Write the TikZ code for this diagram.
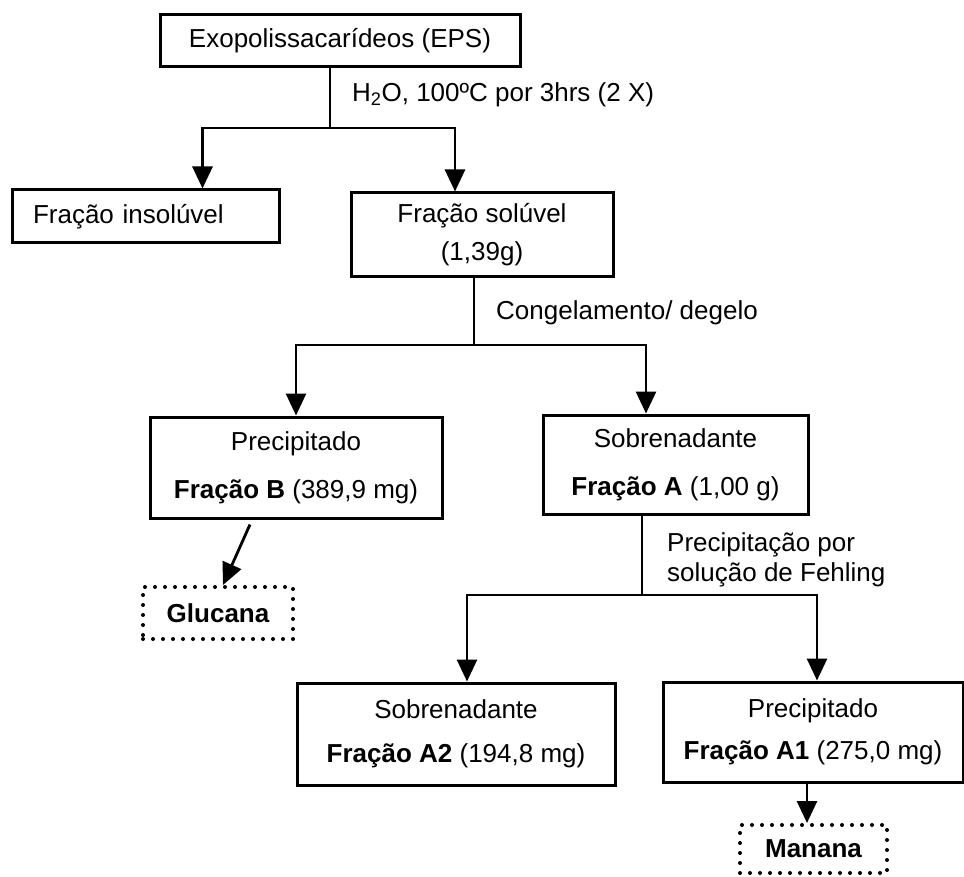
\documentclass[tikz,border=0pt]{standalone}
\usepackage{fontspec}
\setmainfont{Liberation Sans}
\usetikzlibrary{arrows.meta}
\begin{document}
\begin{tikzpicture}[x=1pt,y=-1pt,
  box/.style={draw, line width=3pt, inner sep=0pt, align=center, font=\fontsize{26}{38}\selectfont},
  dotbox/.style={draw, line width=4pt, dash pattern=on 0pt off 10pt, line cap=round, inner sep=0pt, font=\bfseries\fontsize{26}{30}\selectfont},
  conn/.style={line width=2.8pt},
  arr/.style={conn, -{Triangle[length=22pt,width=20pt]}},
  lbl/.style={anchor=west, inner sep=0pt, font=\fontsize{26}{30}\selectfont, align=left}]
\useasboundingbox (0,0) rectangle (964,877);

% boxes
\node[box, minimum width=360pt, minimum height=52pt] (eps) at (340,41) {Exopolissacarídeos (EPS)};
\node[box, minimum width=267pt, minimum height=53pt, text width=225pt, align=left] (ins) at (145.5,216.5) {Fração insolúvel};
\node[box, minimum width=262pt, minimum height=84pt] (sol) at (482,235) {Fração solúvel\\(1,39g)};
\node[box, minimum width=292pt, minimum height=101pt, font=\fontsize{26}{48}\selectfont] (pb) at (296,467.5) {Precipitado\\\textbf{Fração B} (389,9 mg)};
\node[box, minimum width=265pt, minimum height=99pt, font=\fontsize{26}{48}\selectfont] (sa) at (675.5,464.5) {Sobrenadante\\\textbf{Fração A} (1,00 g)};
\node[dotbox, minimum width=150pt, minimum height=52pt] (glu) at (218,613) {Glucana};
\node[box, minimum width=318pt, minimum height=102pt, font=\fontsize{26}{44}\selectfont] (a2) at (456,734) {Sobrenadante\\\textbf{Fração A2} (194,8 mg)};
\node[box, minimum width=300pt, minimum height=100pt, font=\fontsize{26}{42}\selectfont] (a1) at (813,732) {Precipitado\\\textbf{Fração A1} (275,0 mg)};
\node[dotbox, minimum width=147pt, minimum height=48pt] (man) at (813.5,849) {Manana};

% junctions
\coordinate (j1) at (330,128);
\coordinate (j2) at (474,345);
\coordinate (j3) at (642,595);

% labels
\node[lbl] (l1) at (352,95) {H\textsubscript{2}O, 100ºC por 3hrs (2 X)};
\node[lbl] (l2) at (496,313) {Congelamento/ degelo};
\node[lbl] (l3) at (667,560) {Precipitação por\\solução de Fehling};

% connectors
\draw[conn] (eps.south -| j1) -- (j1);
\draw[arr] (j1) -| ([xshift=57pt]ins.north);
\draw[arr] (j1) -| ([xshift=-27pt]sol.north);

\draw[conn] ([xshift=-8pt]sol.south) -- (j2);
\draw[arr] (j2) -| (pb.north);
\draw[arr] (j2) -| ([xshift=-29.5pt]sa.north);

\draw[arr] ([xshift=-46pt,yshift=-5pt]pb.south) -- ([xshift=5pt]glu.north);

\draw[conn] ([xshift=-33.5pt]sa.south) -- (j3);
\draw[arr] (j3) -| ([xshift=11pt]a2.north);
\draw[arr] (j3) -| ([xshift=4pt]a1.north);

\draw[arr] ([xshift=-6pt]a1.south) -- ([xshift=-6.5pt]man.north);
\end{tikzpicture}
\end{document}
